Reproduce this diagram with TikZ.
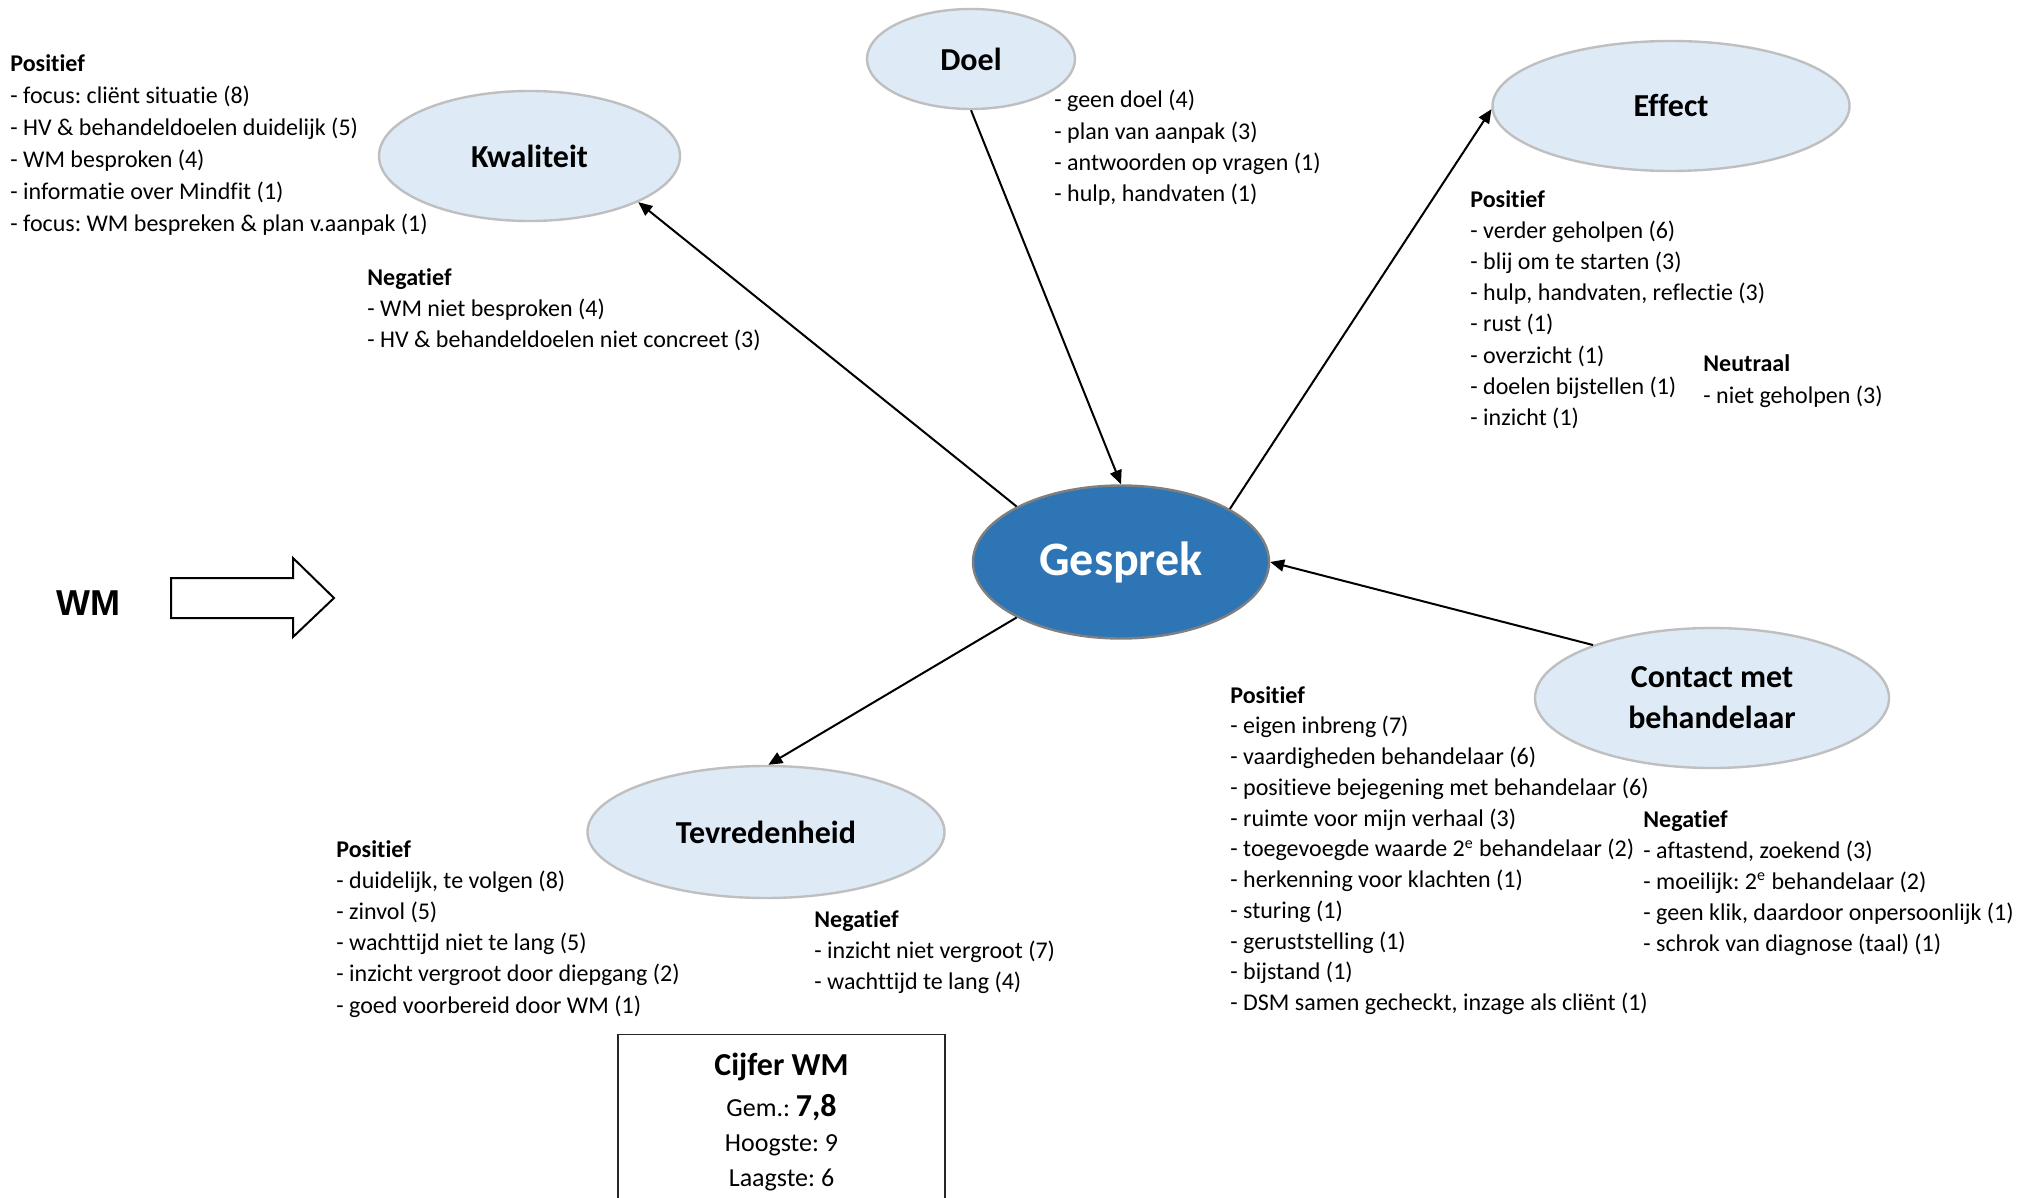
\documentclass[tikz,border=0pt]{standalone}
\usepackage{fontspec}
\setmainfont{Carlito}[Ligatures=NoCommon]
\newfontfamily\wmfont{Liberation Sans}
\usepackage{xcolor}
\usetikzlibrary{arrows.meta,shapes.geometric}
\frenchspacing

\definecolor{ovalfill}{HTML}{DEEBF7}
\definecolor{ovaldraw}{HTML}{BFBFBF}
\definecolor{kernfill}{HTML}{2E75B6}
\definecolor{kerndraw}{HTML}{7F7F7F}

\begin{document}
\begin{tikzpicture}[
  x=0.5pt, y=-0.5pt,
  oval/.style={ellipse, draw=ovaldraw, line width=1.2pt, fill=ovalfill,
    inner sep=0pt, align=center, font=\fontsize{16}{20.5}\selectfont\bfseries},
  kern/.style={ellipse, draw=kerndraw, line width=1.2pt, fill=kernfill,
    text=white, inner sep=0pt, font=\fontsize{24}{28}\selectfont\bfseries},
  % base west = baseline of the last line
  lst/.style={anchor=base west, align=left, inner sep=0pt,
    font=\fontsize{12}{15.6}\selectfont},
  cijf/.style={anchor=base, inner sep=0pt, font=\fontsize{13}{15}\selectfont},
  arr/.style={-{Triangle[length=7pt,width=6pt]}, line width=1pt, draw=black}
]
  \clip (0,0) rectangle (2035,1198);

  % ovalen
  \node[kern, minimum width=148pt, minimum height=76.5pt] (gesprek) at (1121,562) {Gesprek};
  \node[oval, minimum width=104pt, minimum height=50pt] (doel) at (971,59) {Doel};
  \node[oval, minimum width=150.5pt, minimum height=65pt] (kwal) at (529.5,156) {Kwaliteit};
  \node[oval, minimum width=178.5pt, minimum height=65pt] (effect) at (1671,106) {Effect};
  \node[oval, minimum width=177pt, minimum height=70pt] (contact) at (1712,698) {Contact met\\behandelaar};
  \node[oval, minimum width=178.5pt, minimum height=66pt] (tevr) at (766,832) {Tevredenheid};

  % pijlen
  \draw[arr] (gesprek.152.6) -- (kwal.-23.7);
  \draw[arr] (doel.-90)      -- (gesprek.90);
  \draw[arr] (gesprek.26.8)  -- (effect.181);
  \draw[arr] (contact.156.4) -- (gesprek.0);
  \draw[arr] (gesprek.208)   -- (tevr.88);

  % lijsten
  \node[lst, font=\fontsize{12}{16}\selectfont] (kwalpos) at (10,232) {\textbf{Positief}\\- focus: cliënt situatie (8)\\- HV \& behandeldoelen duidelijk (5)\\- WM besproken (4)\\- informatie over Mindfit (1)\\- focus: WM bespreken \& plan v.aanpak (1)};
  \node[lst] (kwalneg) at (367,347.4) {\textbf{Negatief}\\- WM niet besproken (4)\\- HV \& behandeldoelen niet concreet (3)};
  \node[lst] (doellst) at (1054,201.6) {- geen doel (4)\\- plan van aanpak (3)\\- antwoorden op vragen (1)\\- hulp, handvaten (1)};
  \node[lst] (effpos) at (1470,425.4) {\textbf{Positief}\\- verder geholpen (6)\\- blij om te starten (3)\\- hulp, handvaten, reflectie (3)\\- rust (1)\\- overzicht (1)\\- doelen bijstellen (1)\\- inzicht (1)};
  \node[lst] (effneu) at (1703,403.2) {\textbf{Neutraal}\\- niet geholpen (3)};
  \node[lst, font=\fontsize{12}{15.38}\selectfont] (conpos) at (1230,1010.6) {\textbf{Positief}\\- eigen inbreng (7)\\- vaardigheden behandelaar (6)\\- positieve bejegening met behandelaar (6)\\- ruimte voor mijn verhaal (3)\\- toegevoegde waarde 2\textsuperscript{e} behandelaar (2)\\- herkenning voor klachten (1)\\- sturing (1)\\- geruststelling (1)\\- bijstand (1)\\- DSM samen gecheckt, inzage als cliënt (1)};
  \node[lst] (conneg) at (1643,951.8) {\textbf{Negatief}\\- aftastend, zoekend (3)\\- moeilijk: 2\textsuperscript{e} behandelaar (2)\\- geen klik, daardoor onpersoonlijk (1)\\- schrok van diagnose (taal) (1)};
  \node[lst] (tevpos) at (336,1013) {\textbf{Positief}\\- duidelijk, te volgen (8)\\- zinvol (5)\\- wachttijd niet te lang (5)\\- inzicht vergroot door diepgang (2)\\- goed voorbereid door WM (1)};
  \node[lst] (tevneg) at (814,989.4) {\textbf{Negatief}\\- inzicht niet vergroot (7)\\- wachttijd te lang (4)};

  % WM
  \node[font=\wmfont\fontsize{18}{20}\selectfont\bfseries] (wm) at (88,603) {WM};
  \draw[line width=1pt] (171,578) -- (293,578) -- (293,558) -- (334,598)
    -- (293,637) -- (293,618) -- (171,618) -- cycle;

  % cijfer
  \node[draw=black!85, line width=0.7pt, anchor=north, minimum width=163.5pt,
    minimum height=100pt] (cijferbox) at (781.5,1034) {};
  \node[cijf, font=\fontsize{16}{18}\selectfont\bfseries] (cijfertitel) at (781.5,1075) {Cijfer WM};
  \node[cijf] (cijfergem) at (781.5,1116) {Gem.: {\fontsize{16}{18}\selectfont\bfseries 7,8}};
  \node[cijf] (cijferhoog) at (781.5,1151.5) {Hoogste: 9};
  \node[cijf] (cijferlaag) at (781.5,1186.5) {Laagste: 6};
\end{tikzpicture}
\end{document}
